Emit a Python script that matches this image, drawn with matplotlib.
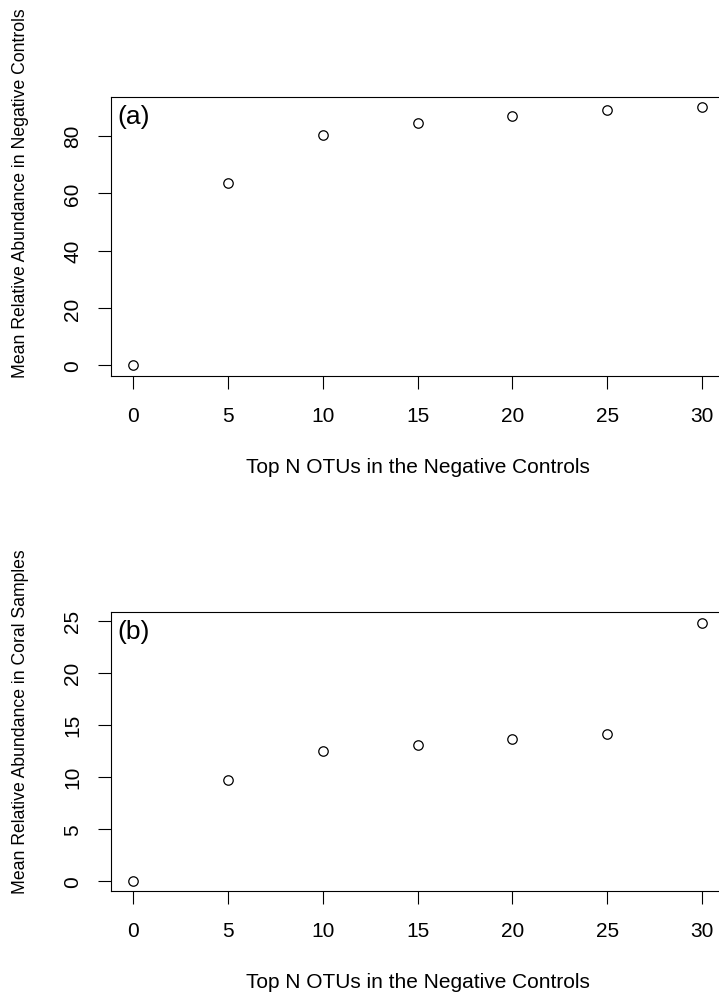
import numpy as np
import matplotlib.pyplot as plt

plt.rcParams['font.family'] = ['Liberation Sans', 'DejaVu Sans']

# dados
top_n = [0, 5, 10, 15, 20, 25, 30]
neg_controls = [0, 63.5, 80.2, 84.3, 87.0, 88.8, 90.0]
coral_samples = [0, 9.7, 12.45, 13.05, 13.65, 14.1, 24.8]

xticks = [0, 5, 10, 15, 20, 25, 30]
yticks_a = [0, 20, 40, 60, 80]
yticks_b = [0, 5, 10, 15, 20, 25]

xlab = 'Top N OTUs in the Negative Controls'
ylab_a = 'Mean Relative Abundance in Negative Controls'
ylab_b = 'Mean Relative Abundance in Coral Samples'

W, H = 719, 995
fig = plt.figure(figsize=(W/100, H/100), dpi=100)

def painel(rect, y, yticks, ylab, tag):
	ax = fig.add_axes(rect)
	ax.plot(top_n, y, 'o', mfc='none', mec='black', ms=6.8, mew=0.9)
	ax.set_xlim(-1.2, 31.2)
	r = max(y) - min(y)
	ax.set_ylim(min(y) - 0.04*r, max(y) + 0.04*r)
	ax.set_xticks(xticks)
	ax.set_yticks(yticks)
	ax.tick_params(length=9.5, width=0.8, labelsize=15, pad=12)
	ax.tick_params(axis='y', pad=11)
	for lb in ax.get_yticklabels():
		lb.set_rotation(90)
		lb.set_va('center')
	for s in ax.spines.values():
		s.set_linewidth(0.8)
	ax.text(0.012, 0.975, tag, transform=ax.transAxes, ha='left', va='top', fontsize=19)
	ax.text(0.5, -0.325, xlab, transform=ax.transAxes, ha='center', va='center', fontsize=15)
	ax.text(-0.146, -0.005, ylab, transform=ax.transAxes, ha='center', va='bottom',
		rotation=90, fontsize=12.7)
	return ax

painel([110.5/W, 1 - 376.7/H, 614.3/W, 279/H], neg_controls, yticks_a, ylab_a, '(a)')
painel([110.5/W, 1 - 892.3/H, 614.3/W, 279/H], coral_samples, yticks_b, ylab_b, '(b)')

fig.savefig('out.png', dpi=100)
